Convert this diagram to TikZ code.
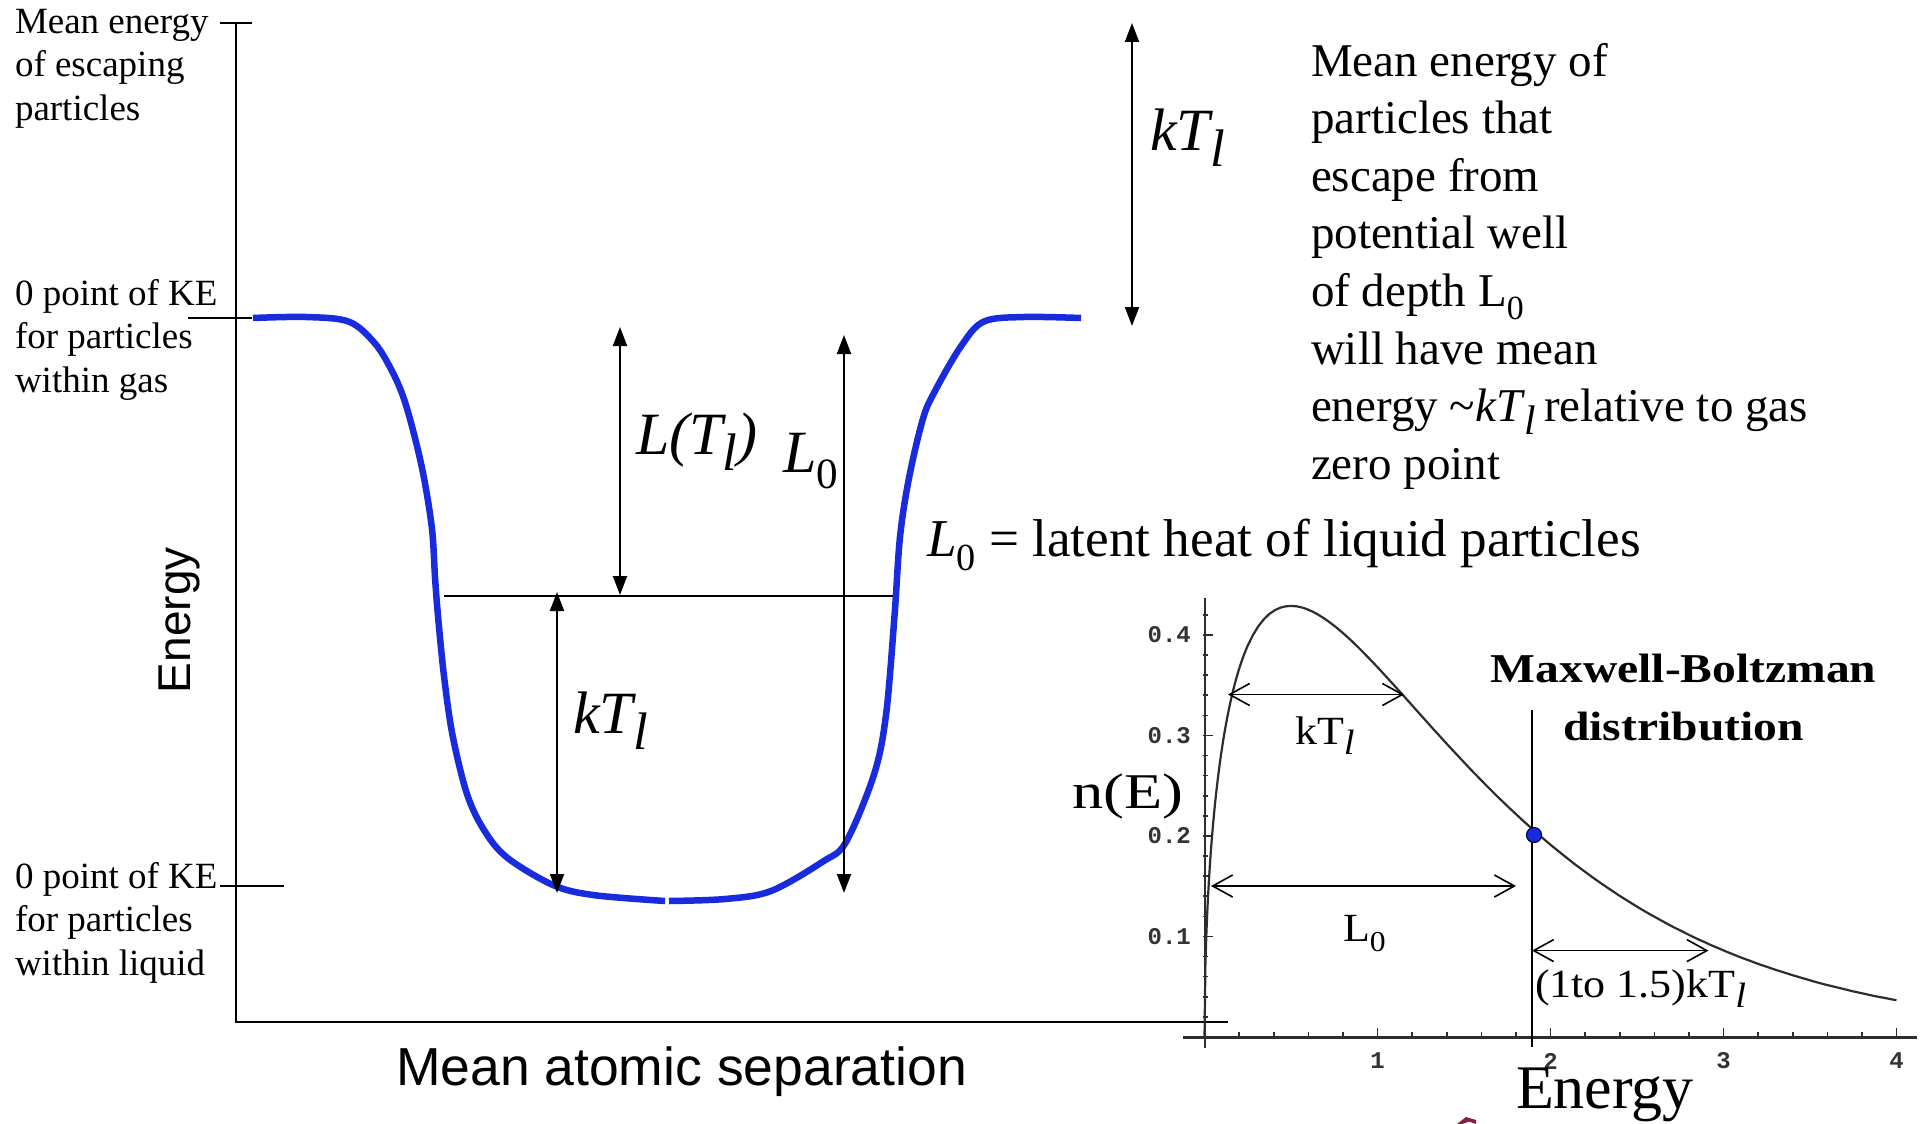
\documentclass[tikz,border=0pt]{standalone}
\usepackage{fontspec}
\setmainfont{Liberation Serif}
\newfontfamily\arialf{Liberation Sans}
\newfontfamily\monof{Liberation Mono}
\usetikzlibrary{arrows.meta}
\definecolor{wellblue}{RGB}{24,44,222}
\definecolor{curvegray}{RGB}{45,45,45}
\definecolor{logored}{RGB}{140,30,60}
\newcommand{\fsz}[2]{\fontsize{#1}{#2}\selectfont}
\newcommand{\dn}[1]{\raisebox{-0.27em}{\scalebox{0.72}{#1}}}
\newcommand{\dnl}[1]{\raisebox{-0.27em}{\scalebox{0.88}{#1}}}
\begin{document}
\begin{tikzpicture}[x=1pt,y=-1pt,
  txt/.style={inner sep=0pt, outer sep=0pt, anchor=base west, align=left},
  lbl/.style={txt, font=\fsz{37}{43.7}},
  big/.style={txt, font=\fsz{60}{60}\itshape},
  axisline/.style={line width=2.4pt, black},
  thin/.style={line width=2pt, black},
  tri/.style={line width=2pt, arrows={Triangle[length=19pt,width=14pt]-Triangle[length=19pt,width=14pt]}},
  barb/.style={line width=1.6pt, arrows={Straight Barb[length=20pt,width=22pt,line width=1.6pt]-Straight Barb[length=20pt,width=22pt,line width=1.6pt]}},
  well/.style={line width=6.5pt, wellblue},
  tick/.style={line width=1.6pt, curvegray},
  ticklbl/.style={inner sep=0pt, font=\monof\bfseries\fsz{24}{24}, text=black!80},
  ptxt/.style={inner sep=0pt, outer sep=0pt, anchor=base west}
]
\fill[white] (0,0) rectangle (1925,1124);
\useasboundingbox (0,0) rectangle (1925,1124);

% ---------- left axis ----------
\coordinate (axtop) at (236,23);
\coordinate (axcorner) at (236,1022);
\coordinate (axright) at (1228,1022);
\draw[axisline] (axtop) -- (axcorner) -- (axright);
\coordinate (t1a) at (220,23);  \coordinate (t1b) at (252,23);
\coordinate (t2a) at (188,318); \coordinate (t2b) at (252,318);
\coordinate (t3a) at (220,886); \coordinate (t3b) at (284,886);
\draw[thin] (t1a) -- (t1b);
\draw[thin] (t2a) -- (t2b);
\draw[thin] (t3a) -- (t3b);

% (base anchor of a multi-line node = baseline of its last line)
\node[lbl] (lab1) at (15,120.4) {Mean energy\\of escaping\\particles};
\node[lbl] (lab2) at (15,392.4) {0 point of KE\\for particles\\within gas};
\node[lbl] (lab3) at (15,975.4) {0 point of KE\\for particles\\within liquid};

\node[txt, rotate=90, font=\arialf\fsz{46}{46}] (elab) at (190,693) {Energy};
\node[txt, font=\arialf\fsz{53.5}{53.5}] (xlab) at (396,1085) {Mean atomic separation};

% ---------- potential well ----------
\draw[well] plot[smooth, tension=0.55] coordinates {(253,318) (306,317) (349,321.7) (375,343.5) (392,371) (404,399) (415,438) (424,478) (432,529) (435,577) (438,616) (444,676) (452.5,735) (467,794) (484,830) (507,857.5) (553,885) (593,895) (665,901)};
\draw[well] plot[smooth, tension=0.55] coordinates {(669,901) (725,899) (771,891) (823,861.5) (846,842) (874,774.5) (886,715) (894.5,616) (900,537) (909,478) (923,418.6) (935,391) (960.5,347) (983.5,321.7) (1023.7,317) (1081,318)};

\coordinate (lvA) at (444,596); \coordinate (lvB) at (893,596);
\draw[thin] (lvA) -- (lvB);

\coordinate (ltT) at (620,327); \coordinate (ltB) at (620,595);
\coordinate (l0T) at (844,335); \coordinate (l0B) at (844,893);
\coordinate (ktT) at (557,592); \coordinate (ktB) at (557,893);
\coordinate (kuT) at (1132,23); \coordinate (kuB) at (1132,326);
\draw[tri] (ltT) -- (ltB);
\draw[tri] (l0T) -- (l0B);
\draw[tri] (ktT) -- (ktB);
\draw[tri] (kuT) -- (kuB);

\node[big] (lTl) at (636,454) {L(T\dnl{l})};
\node[big] (lL0) at (783,472) {L\dn{\upshape 0}};
\node[big] (lkT) at (573,733) {kT\dnl{l}};
\node[big] (ukT) at (1150,150) {kT\dnl{l}};

\node[txt, font=\fsz{47}{57.6}] (desc) at (1311,479.2) {Mean energy of\\particles that\\escape from\\potential well\\of depth L\dn{0}\\will have mean\\energy \textasciitilde\textit{kT}\dnl{\textit{l}}\,relative to gas\\zero point};
\node[txt, font=\fsz{53.2}{53.2}] (latent) at (927,556) {\textit{L}\dn{0} = latent heat of liquid particles};

% ---------- Maxwell-Boltzmann plot ----------
\coordinate (pxA) at (1183,1037); \coordinate (pxB) at (1917,1037);
\coordinate (pyA) at (1204.5,598); \coordinate (pyB) at (1204.5,1048);
\draw[line width=3pt, curvegray] (pxA) -- (pxB);
\draw[line width=2pt, curvegray] (pyA) -- (pyB);
\foreach \i in {1,...,20} {
  \pgfmathsetmacro{\xx}{1204.5+173*0.2*\i}
  \draw[tick] (\xx,1037) -- (\xx,1032);
}
\foreach \i in {1,...,4} {
  \pgfmathsetmacro{\xx}{1204.5+173*\i}
  \draw[tick] (\xx,1037) -- (\xx,1028);
  \node[ticklbl] (xt\i) at (\xx,1061) {\i};
}
\foreach \i in {1,...,21} {
  \pgfmathsetmacro{\yy}{1037-1005*0.02*\i}
  \draw[tick] (1202.5,\yy) -- (1208,\yy);
}
\foreach \i in {1,...,4} {
  \pgfmathsetmacro{\yy}{1037-1005*0.1*\i}
  \draw[tick] (1204.5,\yy) -- (1213,\yy);
  \node[ticklbl, anchor=east] (yt\i) at (1191,\yy) {0.\i};
}
\draw[line width=2.2pt, curvegray, line join=round]
  plot[domain=0:0.25, samples=50] ({1204.5+173*\x},{1037-1005*sqrt(\x)*exp(-\x)})
  -- plot[domain=0.25:4, samples=120] ({1204.5+173*\x},{1037-1005*sqrt(\x)*exp(-\x)});

\coordinate (vA) at (1532,710); \coordinate (vB) at (1532,1047);
\draw[line width=2pt] (vA) -- (vB);
\node[circle, fill=wellblue, draw=black!70!blue, line width=1.2pt, minimum size=15pt, inner sep=0pt] (dot) at (1534,835) {};

\coordinate (akA) at (1228,694.5); \coordinate (akB) at (1404,694.5);
\coordinate (alA) at (1211,886);   \coordinate (alB) at (1516,886);
\coordinate (arA) at (1532,950.6); \coordinate (arB) at (1708.5,950.6);
\draw[barb] (akA) -- (akB);
\draw[barb] (alA) -- (alB);
\draw[barb] (arA) -- (arB);

\node[ptxt, font=\fsz{40}{40}] (pk) at (1295,744) {\scalebox{1.1}[1]{kT\dnl{\textit{l}}}};
\node[ptxt, font=\fsz{40}{40}] (pl) at (1343,941) {\scalebox{1.1}[1]{L\dn{0}}};
\node[ptxt, font=\fsz{40}{40}] (pr) at (1535,997) {\scalebox{1.1}[1]{(1to 1.5)kT\dnl{\textit{l}}}};
\node[ptxt, font=\fsz{50}{50}] (nE) at (1072,808) {\scalebox{1.25}[1]{n(E)}};
\node[inner sep=0pt, anchor=base, font=\fsz{41}{41}\bfseries] (mb1) at (1683.5,682) {\scalebox{1.16}[1]{Maxwell-Boltzman}};
\node[inner sep=0pt, anchor=base, font=\fsz{41}{41}\bfseries] (mb2) at (1683.5,740) {\scalebox{1.16}[1]{distribution}};
\node[ptxt, font=\fsz{62}{62}] (pE) at (1516,1108) {Energy};

% small clipped mark at bottom edge
\fill[logored] (1457,1124) -- (1466,1117) -- (1476,1120) -- (1476,1124) -- (1469,1121.5) -- (1462,1124) -- cycle;
\end{tikzpicture}
\end{document}
